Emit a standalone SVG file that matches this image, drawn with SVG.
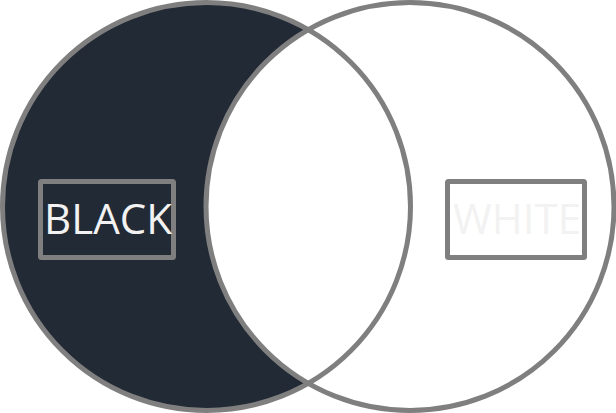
<svg xmlns="http://www.w3.org/2000/svg" width="616" height="413" viewBox="0 0 616 413">
<style>
.ring{fill:none;stroke:#7f7f7f;stroke-width:5}
.box{fill:none;stroke:#7f7f7f;stroke-width:5}
.lbl{font-family:"Open Sans","Noto Sans",sans-serif;font-size:42px}
</style>
<rect width="616" height="413" fill="#ffffff"/>
<g id="black-set">
<circle cx="206.5" cy="206.5" r="204" fill="#222a35"/>
</g>
<g id="white-set">
<circle cx="410" cy="206.5" r="204" fill="#ffffff"/>
</g>
<g id="outlines">
<circle class="ring" cx="206.5" cy="206.5" r="204"/>
<circle class="ring" cx="410" cy="206.5" r="204"/>
</g>
<g id="black-label">
<rect class="box" x="40.5" y="181.5" width="133" height="76" rx="1"/>
<text class="lbl" x="108" y="234" text-anchor="middle" fill="#f2f2f2">BLACK</text>
</g>
<g id="white-label">
<rect class="box" x="447.5" y="181.5" width="137" height="76" rx="1"/>
<text class="lbl" x="517" y="234" text-anchor="middle" fill="#f2f2f2">WHITE</text>
</g>
</svg>
